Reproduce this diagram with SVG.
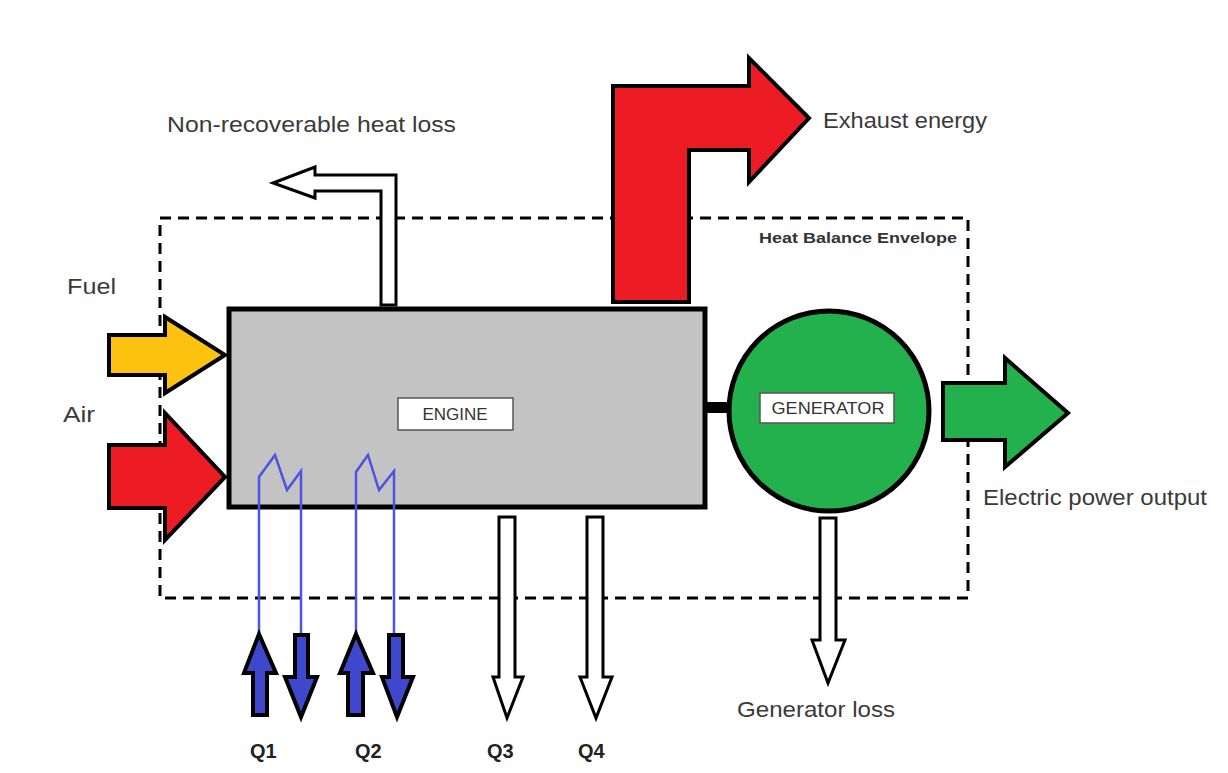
<svg xmlns="http://www.w3.org/2000/svg" width="1228" height="773" viewBox="0 0 1228 773">
<style>
.lbl{font-family:"Liberation Sans",Arial,sans-serif;font-size:22px;fill:#3a3a3a}
.q{font-family:"Liberation Sans",Arial,sans-serif;font-size:20px;font-weight:bold;fill:#222}
.box{fill:#fff;stroke:#555;stroke-width:1.5}
.boxt{font-family:"Liberation Sans",Arial,sans-serif;font-size:17px;fill:#333;text-anchor:middle}
.blk{stroke:#000;stroke-width:4;stroke-linejoin:miter}
.wht{fill:#fff;stroke:#000;stroke-width:3}
.blue{fill:#3f48cc;stroke:#000;stroke-width:4}
.bl{fill:none;stroke:#4a55e6;stroke-width:2.5}
</style>
<rect width="1228" height="773" fill="#fff"/>
<g id="envelope">
<rect x="160" y="218" width="808" height="380" fill="none" stroke="#000" stroke-width="3" stroke-dasharray="11 7"/>
<text x="759" y="243" textLength="198" lengthAdjust="spacingAndGlyphs" style="font-family:'Liberation Sans',Arial,sans-serif;font-size:15px;font-weight:bold;fill:#333">Heat Balance Envelope</text>
</g>
<g id="engine">
<rect x="229" y="309" width="476" height="198" fill="#c3c3c3" stroke="#000" stroke-width="5"/>
<rect class="box" x="398" y="398" width="115" height="32"/>
<text class="boxt" x="455" y="420">ENGINE</text>
</g>
<g id="generator">
<circle cx="829" cy="411" r="100" fill="#22b14c" stroke="#000" stroke-width="5"/>
<rect class="box" x="760" y="393" width="134" height="30"/>
<text class="boxt" x="828" y="414" textLength="113" lengthAdjust="spacingAndGlyphs">GENERATOR</text>
</g>
<g id="connectors">
<path class="wht" d="M381,305 L381,191 L315,191 L315,198 L273,183 L315,167 L315,175 L396,175 L396,305 Z"/>
<path class="blk" fill="#ed1c24" d="M613,302 L613,86 L749,86 L749,58 L809,118 L749,182 L749,150 L689,150 L689,302 Z"/>
<path class="blk" fill="#fcc20f" d="M109,335 L165,335 L165,317 L225,355 L165,393 L165,375 L109,375 Z"/>
<path class="blk" fill="#ed1c24" d="M109,445 L165,445 L165,413 L225,477 L165,540 L165,508 L109,508 Z"/>
<path class="blk" fill="#22b14c" d="M943,383 L1005,383 L1005,358 L1068,413 L1005,467 L1005,440 L943,440 Z"/>
<path class="wht" d="M499,517 L515,517 L515,677 L523,677 L507,718 L493,677 L499,677 Z"/>
<path class="wht" d="M587,517 L603,517 L603,677 L612,677 L596,718 L580,677 L587,677 Z"/>
<path class="wht" d="M820,518 L836,518 L836,640 L845,640 L828,683 L812,640 L820,640 Z"/>
<path class="bl" d="M259,634 L259,477 L275,455 L287,490 L301,471 L301,636"/>
<path class="bl" d="M356,634 L356,472 L368,455 L379,490 L394,471 L394,636"/>
<path class="blue" d="M259,634 L276,673 L267,673 L267,715 L253,715 L253,673 L244,673 Z"/>
<path class="blue" d="M295,635 L308,635 L308,677 L317,677 L301,717 L285,677 L295,677 Z"/>
<path class="blue" d="M356,634 L373,673 L363,673 L363,715 L348,715 L348,673 L340,673 Z"/>
<path class="blue" d="M389,635 L403,635 L403,677 L413,677 L397,717 L382,677 L389,677 Z"/>
<rect x="704" y="402" width="26" height="11" fill="#000"/>
</g>
<g id="labels">
<text class="lbl" x="167" y="132" textLength="289" lengthAdjust="spacingAndGlyphs">Non-recoverable heat loss</text>
<text class="lbl" x="823" y="128" textLength="164" lengthAdjust="spacingAndGlyphs">Exhaust energy</text>
<text class="lbl" x="67" y="294" textLength="49" lengthAdjust="spacingAndGlyphs">Fuel</text>
<text class="lbl" x="63" y="422" textLength="32" lengthAdjust="spacingAndGlyphs">Air</text>
<text class="lbl" x="983" y="505" textLength="224" lengthAdjust="spacingAndGlyphs">Electric power output</text>
<text class="lbl" x="737" y="717" textLength="158" lengthAdjust="spacingAndGlyphs">Generator loss</text>
<text class="q" x="250" y="758">Q1</text>
<text class="q" x="355" y="758">Q2</text>
<text class="q" x="487" y="758">Q3</text>
<text class="q" x="578" y="758">Q4</text>
</g>
</svg>
